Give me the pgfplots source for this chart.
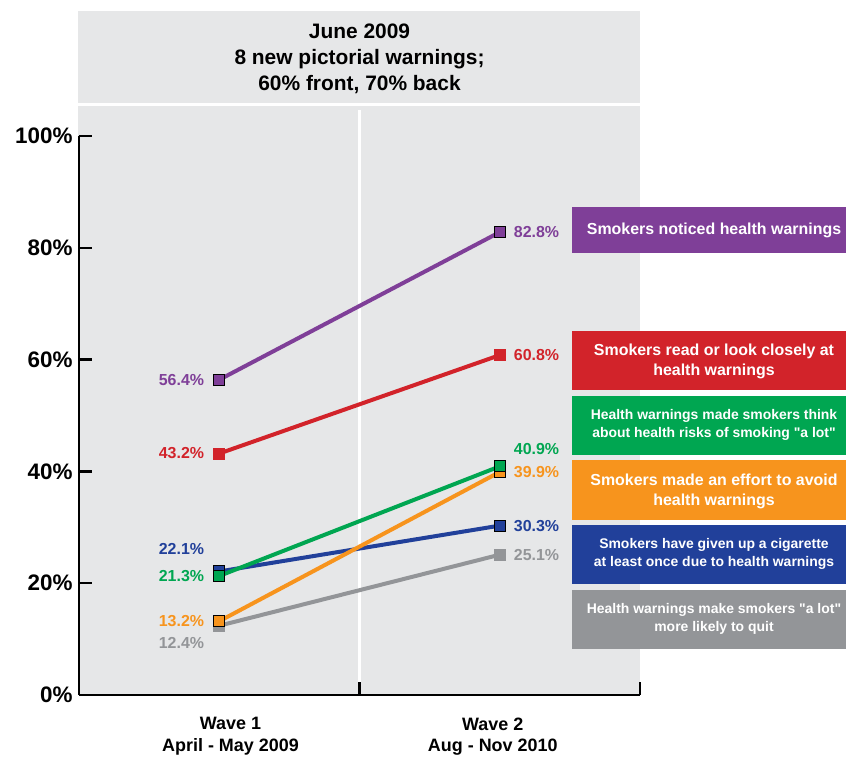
\documentclass[border=0pt]{standalone}
\usepackage{fontspec}
\setmainfont{Liberation Sans}[Ligatures=TeXOff]
\usepackage{pgfplots}
\usepackage{pgfplotstable}
\pgfplotsset{compat=1.18}

\definecolor{bgGray}{HTML}{E6E7E8}
\definecolor{cPurple}{HTML}{7F3F98}
\definecolor{cRed}{HTML}{D2232A}
\definecolor{cGreen}{HTML}{00A651}
\definecolor{cOrange}{HTML}{F7941D}
\definecolor{cBlue}{HTML}{21409A}
\definecolor{cGray}{HTML}{939598}

% Share of smokers (%) at each survey wave
\pgfplotstableread{
wave noticed read think avoid givenup quit
1    56.4    43.2 21.3  13.2  22.1    12.4
2    82.8    60.8 40.9  39.9  30.3    25.1
}\warningdata

\newcommand{\lblfont}{\fontsize{16}{18}\selectfont\bfseries}
\newcommand{\boxfont}{\fontsize{16}{20}\selectfont\bfseries}
\newcommand{\boxfontsm}{\fontsize{14}{18}\selectfont\bfseries}

\begin{document}
\begin{tikzpicture}
% panel background, header strip and wave divider (origin = lower-left of plot box)
\fill[bgGray] (-1bp,0bp) rectangle (561bp,684bp);
\draw[white, line width=3bp] (-1bp,590bp) -- (561bp,590bp);
\draw[white, line width=2.5bp] (280.5bp,0bp) -- (280.5bp,585bp);
\node[align=center, font=\fontsize{21}{26}\selectfont\bfseries] at (280.5bp,636bp)
  {June 2009\\8 new pictorial warnings;\\60\% front, 70\% back};

\begin{axis}[
  at={(0,0)}, anchor=south west,
  scale only axis, width=561bp, height=559bp,
  xmin=0.5, xmax=2.5, ymin=0, ymax=100,
  axis lines*=left,
  axis line style={line width=2.4bp, black},
  clip=false,
  tick align=inside,
  major tick length=13bp,
  every tick/.style={black, line width=2.2bp},
  ytick={0,20,40,60,80,100},
  yticklabel={\pgfmathprintnumber{\tick}\%},
  yticklabel style={font=\fontsize{22.5}{24}\selectfont\bfseries, xshift=-3bp},
  xtick={1.5,2.5}, xticklabels={},
  extra x ticks={1.04,1.975},
  extra x tick labels={{Wave 1\\April - May 2009},{Wave 2\\Aug - Nov 2010}},
  extra x tick style={major tick length=0pt,
    xticklabel style={align=center, yshift=-19bp,
      font=\fontsize{18}{22}\selectfont\bfseries}},
  /pgf/number format/assume math mode=true,
]
\addplot[cGray, line width=4bp, mark=square*, mark size=5.5bp,
  mark options={draw=cGray, fill=cGray, line width=0.8bp}]
  table[x=wave, y=quit] {\warningdata};
\addplot[cBlue, line width=4bp, mark=square*, mark size=5.5bp,
  mark options={draw=black, fill=cBlue, line width=1bp}]
  table[x=wave, y=givenup] {\warningdata};
\addplot[cOrange, line width=4bp, mark=square*, mark size=5.5bp,
  mark options={draw=black, fill=cOrange, line width=1bp}]
  table[x=wave, y=avoid] {\warningdata};
\addplot[cGreen, line width=4bp, mark=square*, mark size=5.5bp,
  mark options={draw=black, fill=cGreen, line width=1bp}]
  table[x=wave, y=think] {\warningdata};
\addplot[cRed, line width=4bp, mark=square*, mark size=5.5bp,
  mark options={draw=cRed, fill=cRed, line width=0.8bp}]
  table[x=wave, y=read] {\warningdata};
\addplot[cPurple, line width=4bp, mark=square*, mark size=5.5bp,
  mark options={draw=black, fill=cPurple, line width=1bp}]
  table[x=wave, y=noticed] {\warningdata};

% value labels, wave 1
\begin{scope}[every node/.style={inner sep=0pt, font=\lblfont}]
\node[anchor=east, xshift=-15bp, text=cPurple] at (axis cs:1,56.4) {56.4\%};
\node[anchor=east, xshift=-15bp, text=cRed] at (axis cs:1,43.2) {43.2\%};
\node[anchor=east, xshift=-15bp, yshift=22bp, text=cBlue] at (axis cs:1,22.1) {22.1\%};
\node[anchor=east, xshift=-15bp, text=cGreen] at (axis cs:1,21.3) {21.3\%};
\node[anchor=east, xshift=-15bp, text=cOrange] at (axis cs:1,13.2) {13.2\%};
\node[anchor=east, xshift=-15bp, yshift=-17bp, text=cGray] at (axis cs:1,12.4) {12.4\%};
% value labels, wave 2
\node[anchor=west, xshift=14bp, text=cPurple] at (axis cs:2,82.8) {82.8\%};
\node[anchor=west, xshift=14bp, text=cRed] at (axis cs:2,60.8) {60.8\%};
\node[anchor=west, xshift=14bp, yshift=17bp, text=cGreen] at (axis cs:2,40.9) {40.9\%};
\node[anchor=west, xshift=14bp, text=cOrange] at (axis cs:2,39.9) {39.9\%};
\node[anchor=west, xshift=14bp, text=cBlue] at (axis cs:2,30.3) {30.3\%};
\node[anchor=west, xshift=14bp, text=cGray] at (axis cs:2,25.1) {25.1\%};
\end{scope}
\end{axis}

% series key boxes, placed in page units (x right, y down from top-left)
\begin{scope}[x=1bp, y=-1bp, shift={(-79bp,695bp)},
  every node/.style={inner sep=0pt, align=center, text=white}]
\fill[cPurple] (572,207) rectangle (846,253);
\node[font=\boxfont] at (714,230) {Smokers noticed health warnings};
\fill[cRed] (572,331) rectangle (846,390);
\node[font=\boxfont] at (714,361) {Smokers read or look closely at\\health warnings};
\fill[cGreen] (572,396) rectangle (846,455);
\node[font=\boxfontsm] at (714,425) {Health warnings made smokers think\\about health risks of smoking "a lot"};
\fill[cOrange] (572,460) rectangle (846,520);
\node[font=\boxfont] at (714,491) {Smokers made an effort to avoid\\health warnings};
\fill[cBlue] (572,525) rectangle (846,584);
\node[font=\boxfontsm] at (714,554) {Smokers have given up a cigarette\\at least once due to health warnings};
\fill[cGray] (572,590) rectangle (846,649);
\node[font=\boxfontsm] at (714,619) {Health warnings make smokers "a lot"\\more likely to quit};
\path (0,0) rectangle (846,754);
\end{scope}
\end{tikzpicture}
\end{document}
